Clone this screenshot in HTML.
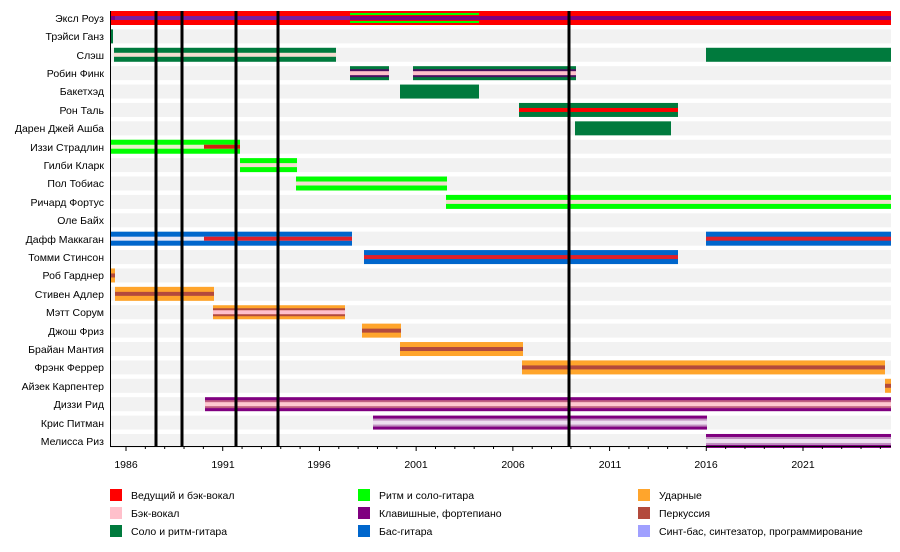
<!DOCTYPE html>
<html><head><meta charset="utf-8"><style>
body{margin:0;background:#fff;width:900px;height:547px;overflow:hidden;font-family:"Liberation Sans",sans-serif}
svg text{font-family:"Liberation Sans",sans-serif;font-size:10.5px;fill:#000}
</style></head><body>
<svg id="s" width="900" height="547" xmlns="http://www.w3.org/2000/svg">
<g id="bg"></g><g id="bars"></g><g id="vl"></g><g id="ax"></g>
<g text-anchor="end">
<text x="104" y="22">Эксл Роуз</text>
<text x="104" y="40">Трэйси Ганз</text>
<text x="104" y="59">Слэш</text>
<text x="104" y="77">Робин Финк</text>
<text x="104" y="95">Бакетхэд</text>
<text x="104" y="114">Рон Таль</text>
<text x="104" y="132">Дарен Джей Ашба</text>
<text x="104" y="151">Иззи Страдлин</text>
<text x="104" y="169">Гилби Кларк</text>
<text x="104" y="187">Пол Тобиас</text>
<text x="104" y="206">Ричард Фортус</text>
<text x="104" y="224">Оле Байх</text>
<text x="104" y="243">Дафф Маккаган</text>
<text x="104" y="261">Томми Стинсон</text>
<text x="104" y="279">Роб Гарднер</text>
<text x="104" y="298">Стивен Адлер</text>
<text x="104" y="316">Мэтт Сорум</text>
<text x="104" y="335">Джош Фриз</text>
<text x="104" y="353">Брайан Мантия</text>
<text x="104" y="371">Фрэнк Феррер</text>
<text x="104" y="390">Айзек Карпентер</text>
<text x="104" y="408">Диззи Рид</text>
<text x="104" y="427">Крис Питман</text>
<text x="104" y="445">Мелисса Риз</text>
</g>
<g text-anchor="middle">
<text x="126" y="468">1986</text><text x="223" y="468">1991</text><text x="319" y="468">1996</text><text x="416" y="468">2001</text><text x="513" y="468">2006</text><text x="610" y="468">2011</text><text x="706" y="468">2016</text><text x="803" y="468">2021</text>
</g>
<g>
<rect x="110" y="489" width="12" height="12" fill="#ff0000"/><text x="131" y="499">Ведущий и бэк-вокал</text>
<rect x="110" y="507" width="12" height="12" fill="#ffc0cb"/><text x="131" y="517">Бэк-вокал</text>
<rect x="110" y="525" width="12" height="12" fill="#007a3d"/><text x="131" y="535">Соло и ритм-гитара</text>
<rect x="358" y="489" width="12" height="12" fill="#00ff00"/><text x="379" y="499">Ритм и соло-гитара</text>
<rect x="358" y="507" width="12" height="12" fill="#800080"/><text x="379" y="517">Клавишные, фортепиано</text>
<rect x="358" y="525" width="12" height="12" fill="#0066cc"/><text x="379" y="535">Бас-гитара</text>
<rect x="638" y="489" width="12" height="12" fill="#ffa52c"/><text x="659" y="499">Ударные</text>
<rect x="638" y="507" width="12" height="12" fill="#b34a3c"/><text x="659" y="517">Перкуссия</text>
<rect x="638" y="525" width="12" height="12" fill="#a0a0ff"/><text x="659" y="535">Синт-бас, синтезатор, программирование</text>
</g>
</svg>
<script>
var NS="http://www.w3.org/2000/svg";
function R(g,x1,x2,y,h,c){var r=document.createElementNS(NS,"rect");r.setAttribute("x",x1);r.setAttribute("y",y);r.setAttribute("width",Math.max(x2-x1,1));r.setAttribute("height",h);r.setAttribute("fill",c);document.getElementById(g).appendChild(r);}
function cy(i){return 18+18.39*i;}
for(var i=0;i<24;i++)R("bg",110,891,cy(i)-7,14,"#f2f2f2");
var G="#007a3d",BG="#00ff00",RD="#ff0000",P="#800080",PK="#ffc0cb",BL="#0066cc",O="#ffa52c",BR="#b34a3c",PL="#f5ddd0",LV="#eee0f0";
// [row,x1,x2,outer,stripes:[[offset,h,color]]]
function bar(i,x1,x2,c,st){var y=cy(i);R("bars",x1,x2,y-7,14,c);(st||[]).forEach(function(s){R("bars",s[2]!=null?s[2]:x1,s[3]!=null?s[3]:x2,y+s[0],s[1],s[4]);});}
bar(0,111,891,RD,[[-2,4,null,null,"#800080"]]);
R("bars",115,350,cy(0)-2,4,"#7a1fa0");
R("bars",350,479,cy(0)-5,2,BG);R("bars",350,479,cy(0)+3,2,BG);
bar(1,110,113,G);
bar(2,114,336,G,[[-2,4,null,null,PL]]);bar(2,706,891,G);
bar(3,350,389,G,[[-4,8,null,null,"#4a1060"],[-2,4,null,null,PK]]);
bar(3,413,576,G,[[-4,8,null,null,"#4a1060"],[-2,4,null,null,PK]]);
bar(4,400,479,G);
bar(5,519,678,G,[[-2,4,null,null,RD]]);
bar(6,575,671,G);
bar(7,110,240,BG,[[-2,4,null,null,"#e8f0c8"]]);R("bars",204,240,cy(7)-2,4,"#d02010");
bar(8,240,297,BG,[[-2,4,null,null,PL]]);
bar(9,296,447,BG,[[-2,4,null,null,PL]]);
bar(10,446,891,BG,[[-2,4,null,null,PL]]);
bar(11,110,111,BL);
bar(12,110,352,BL,[[-2,4,null,null,"#e6e6f6"]]);R("bars",204,352,cy(12)-2,4,"#e0202a");
bar(12,706,891,BL,[[-2,4,null,null,"#e0202a"]]);
bar(13,364,678,BL,[[-2,4,null,null,"#e0202a"]]);
bar(14,110,115,O,[[-2,4,null,null,BR]]);
bar(15,115,214,O,[[-2,4,null,null,BR]]);
bar(16,213,345,O,[[-4,8,null,null,BR],[-2,4,null,null,PK]]);
bar(17,362,401,O,[[-2,4,null,null,BR]]);
bar(18,400,523,O,[[-2,4,null,null,BR]]);
bar(19,522,885,O,[[-2,4,null,null,BR]]);
bar(20,885,891,O,[[-2,4,null,null,BR]]);
bar(21,205,891,P,[[-4,8,null,null,"#c06080"],[-2,4,null,null,"#ffc8d0"]]);
bar(22,373,707,P,[[-4,8,null,null,"#c090c0"],[-2,4,null,null,LV]]);
bar(23,706,891,P,[[-4,8,null,null,"#c090c0"],[-2,4,null,null,LV]]);
[156,182,236,278,569].forEach(function(x){R("vl",x-1.5,x+1.5,11,435,"#000");});
R("ax",110,111,11,436,"#000");R("ax",110,891,446,1,"#000");
for(var y=1986;y<=2025;y++){var x=126+19.343*(y-1986);var m=(y-1986)%5==0;R("ax",x-0.5,x+0.5,447,m?4:2,"#000");}
</script>
</body></html>
